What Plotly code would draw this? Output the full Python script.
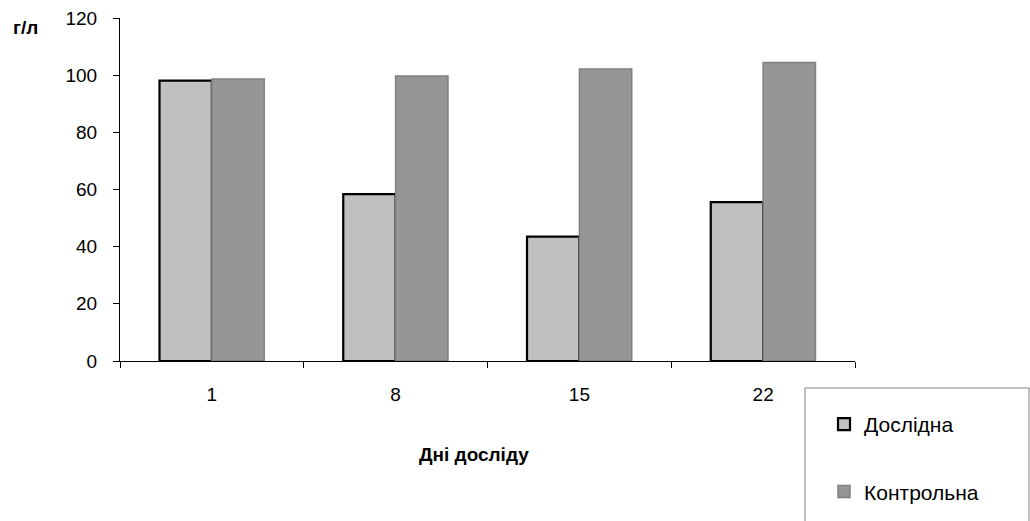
import plotly.graph_objects as go

days = ["1", "8", "15", "22"]
experimental = [98.1, 58.4, 43.5, 55.6]
control = [98.7, 99.7, 102.2, 104.4]
y_ticks = [0, 20, 40, 60, 80, 100, 120]

W, H = 1030, 521
L, R, T, B = 120, 175, 18, 160

fig = go.Figure()
fig.add_trace(go.Bar(
    x=days, y=experimental, name="Дослідна", legendgroup="a",
    marker=dict(color="#c0c0c0", line=dict(color="#000000", width=2.2)),
))
fig.add_trace(go.Bar(
    x=days, y=control, name="Контрольна", legendgroup="b",
    marker=dict(color="#969696", line=dict(color="#808080", width=1.5)),
))

FAM = "Liberation Sans, Arial, sans-serif"
font = dict(family=FAM, size=19, color="#000000")

fig.update_layout(
    width=W, height=H,
    margin=dict(l=L, r=R, t=T, b=B, autoexpand=False),
    paper_bgcolor="white", plot_bgcolor="white",
    barmode="group", bargap=0.43, bargroupgap=0,
    font=font,
    showlegend=True,
    legend=dict(
        xref="container", yref="container",
        x=824 / W, y=1 - 404 / H, xanchor="left", yanchor="top",
        font=dict(family=FAM, size=21, color="#000000"),
        bgcolor="rgba(0,0,0,0)", borderwidth=0,
        tracegroupgap=37, traceorder="grouped",
        itemwidth=30,
    ),
    xaxis=dict(
        type="category", showline=True, linecolor="#000000", linewidth=1,
        ticks="outside", tickson="boundaries", ticklen=6, tickcolor="#000000",
        showgrid=False, zeroline=False, ticklabelstandoff=16,
        tickfont=font, range=[-0.5, 3.5],
    ),
    yaxis=dict(
        range=[0, 120], tickvals=y_ticks, showline=True, linecolor="#000000", linewidth=1,
        ticks="outside", ticklen=6, tickcolor="#000000",
        showgrid=False, zeroline=False, ticklabelstandoff=12,
        tickfont=font,
    ),
    shapes=[dict(
        type="rect", xref="paper", yref="paper",
        x0=(805 - L) / (W - L - R), x1=(1029 - L) / (W - L - R),
        y0=(H - B - 540) / (H - T - B), y1=(H - B - 388) / (H - T - B),
        line=dict(color="#808080", width=1), fillcolor="rgba(0,0,0,0)",
    )],
    annotations=[
        dict(text="<b>Дні досліду</b>", xref="paper", yref="paper",
             x=(474 - L) / (W - L - R), y=(H - B - 454) / (H - T - B),
             showarrow=False, xanchor="center", yanchor="middle",
             font=dict(family=FAM, size=19, color="#000000")),
        dict(text="<b>г/л</b>", xref="paper", yref="paper",
             x=(11 - L) / (W - L - R), y=(H - B - 28) / (H - T - B),
             showarrow=False, xanchor="left", yanchor="middle",
             font=dict(family=FAM, size=19, color="#000000")),
    ],
)

fig.write_html("out.html")
